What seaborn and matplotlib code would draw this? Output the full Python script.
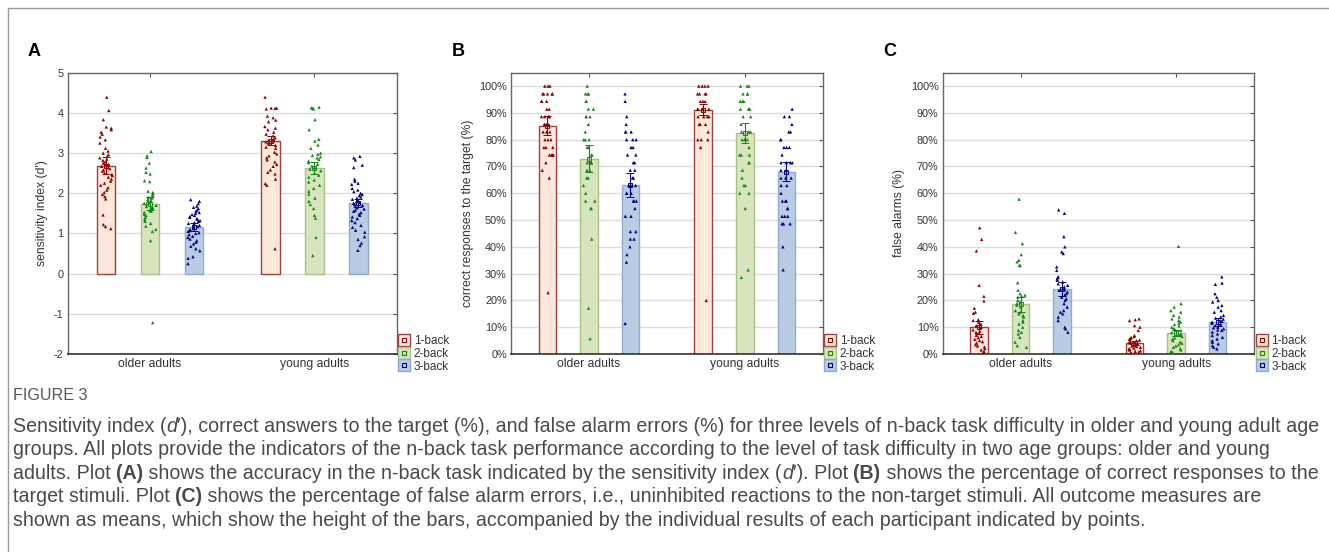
import numpy as np
import pandas as pd
import matplotlib
matplotlib.use("Agg")
import matplotlib.pyplot as plt
import seaborn as sns
from matplotlib.lines import Line2D

# ---------------- data ----------------
levels = ["1-back", "2-back", "3-back"]
groups = ["older adults", "young adults"]

# Panel A: sensitivity index (d')
a_old_1 = [4.39, 4.06, 3.83, 3.65, 3.62, 3.58, 3.52, 3.47, 3.40, 3.33, 3.25, 3.12, 3.05, 3.00, 2.96, 2.92,
           2.88, 2.85, 2.82, 2.78, 2.75, 2.72, 2.70, 2.67, 2.64, 2.61, 2.58, 2.55, 2.50, 2.47, 2.44, 2.40,
           2.35, 2.30, 2.25, 2.20, 2.14, 2.08, 2.02, 1.97, 1.92, 1.86, 1.46, 1.22, 1.17, 1.12]
a_old_2 = [3.04, 2.93, 2.89, 2.75, 2.63, 2.52, 2.48, 2.31, 2.29, 2.05, 2.02, 1.99, 1.96, 1.93, 1.90, 1.88,
           1.85, 1.82, 1.80, 1.77, 1.75, 1.73, 1.70, 1.67, 1.65, 1.62, 1.60, 1.57, 1.55, 1.52, 1.48, 1.45,
           1.40, 1.35, 1.30, 1.25, 1.18, 1.10, 1.05, 0.82, -1.22]
a_old_3 = [1.84, 1.80, 1.74, 1.68, 1.65, 1.62, 1.58, 1.55, 1.52, 1.50, 1.47, 1.45, 1.42, 1.40, 1.37, 1.35,
           1.32, 1.30, 1.27, 1.25, 1.22, 1.20, 1.17, 1.15, 1.12, 1.10, 1.07, 1.05, 1.02, 1.00, 0.97, 0.93,
           0.90, 0.86, 0.82, 0.78, 0.74, 0.68, 0.62, 0.57, 0.42, 0.38, 0.25]
a_young_1 = [4.39, 4.12, 4.12, 4.11, 4.10, 3.92, 3.88, 3.82, 3.78, 3.66, 3.62, 3.58, 3.52, 3.47, 3.43, 3.38,
             3.34, 3.32, 3.30, 3.28, 3.25, 3.22, 3.19, 3.15, 3.12, 3.02, 2.98, 2.93, 2.88, 2.83, 2.78, 2.72,
             2.67, 2.58, 2.52, 2.48, 2.35, 2.24, 2.20, 0.62]
a_young_2 = [4.14, 4.13, 4.12, 4.10, 3.83, 3.58, 3.34, 3.30, 3.20, 3.12, 3.00, 2.97, 2.94, 2.91, 2.88, 2.84,
             2.80, 2.76, 2.72, 2.68, 2.64, 2.60, 2.56, 2.50, 2.45, 2.40, 2.33, 2.28, 2.20, 2.12, 2.05, 1.98,
             1.88, 1.80, 1.72, 1.62, 1.45, 1.38, 0.90, 0.45]
a_young_3 = [2.92, 2.88, 2.83, 2.70, 2.64, 2.35, 2.30, 2.25, 2.22, 2.12, 2.08, 2.04, 2.00, 1.97, 1.94, 1.91,
             1.88, 1.85, 1.82, 1.80, 1.77, 1.75, 1.72, 1.70, 1.67, 1.64, 1.61, 1.58, 1.55, 1.52, 1.48, 1.45,
             1.41, 1.37, 1.32, 1.27, 1.20, 1.15, 1.08, 1.03, 0.92, 0.85, 0.76, 0.70, 0.58]
a_means_old = [2.69, 1.74, 1.15]
a_means_young = [3.31, 2.63, 1.76]
a_err_old = [0.22, 0.16, 0.10]
a_err_young = [0.12, 0.15, 0.10]

# Panel B: correct responses to the target (%)
b_old_1 = [100, 100, 100, 97.1, 97.1, 97.1, 97.1, 97.1, 94.3, 94.3, 94.3, 91.4, 91.4, 88.6, 88.6, 88.6,
           88.6, 85.7, 85.7, 85.7, 85.7, 82.9, 82.9, 82.9, 80.0, 80.0, 80.0, 77.1, 77.1, 77.1, 74.3, 74.3,
           74.3, 74.3, 71.4, 68.6, 65.7, 22.9]
b_old_2 = [100, 97.1, 97.1, 97.1, 94.3, 94.3, 91.4, 91.4, 88.6, 88.6, 88.6, 85.7, 82.9, 80.0, 80.0, 80.0,
           77.1, 77.1, 74.3, 74.3, 71.4, 71.4, 71.4, 71.4, 68.6, 68.6, 65.7, 65.7, 62.9, 60.0, 57.1, 57.1,
           54.3, 54.3, 42.9, 17.1, 5.7]
b_old_3 = [97.1, 94.3, 88.6, 85.7, 82.9, 82.9, 82.9, 80.0, 80.0, 80.0, 77.1, 77.1, 74.3, 74.3, 71.4, 71.4,
           68.6, 68.6, 65.7, 65.7, 62.9, 62.9, 62.9, 60.0, 60.0, 60.0, 57.1, 57.1, 57.1, 54.3, 51.4, 51.4,
           45.7, 45.7, 42.9, 42.9, 40.0, 37.1, 34.3, 11.4]
b_young_1 = [100, 100, 100, 100, 97.1, 97.1, 97.1, 97.1, 94.3, 94.3, 94.3, 91.4, 91.4, 91.4, 91.4, 88.6,
             88.6, 88.6, 88.6, 85.7, 85.7, 85.7, 82.9, 80.0, 80.0, 80.0, 77.1, 20.0]
b_young_2 = [100, 100, 100, 97.1, 97.1, 97.1, 94.3, 94.3, 94.3, 91.4, 91.4, 91.4, 91.4, 88.6, 88.6, 85.7,
             82.9, 82.9, 82.9, 80.0, 80.0, 80.0, 77.1, 74.3, 74.3, 74.3, 71.4, 71.4, 68.6, 65.7, 62.9, 62.9,
             60.0, 60.0, 54.3, 31.4, 28.6]
b_young_3 = [91.4, 88.6, 88.6, 85.7, 82.9, 82.9, 80.0, 80.0, 77.1, 77.1, 77.1, 74.3, 71.4, 71.4, 71.4, 71.4,
             68.6, 68.6, 65.7, 65.7, 65.7, 62.9, 62.9, 60.0, 57.1, 57.1, 57.1, 54.3, 54.3, 51.4, 51.4, 51.4,
             48.6, 48.6, 48.6, 40.0, 31.4]
b_means_old = [85.2, 72.9, 63.0]
b_means_young = [91.2, 82.4, 68.0]
b_err_old = [3.5, 5.0, 4.5]
b_err_young = [2.0, 3.8, 3.6]

# Panel C: false alarms (%)
c_old_1 = [47.1, 42.8, 38.5, 25.6, 21.5, 19.8, 17.1, 15.6, 15.2, 12.8, 12.5, 11.9, 11.2, 10.6, 10.0, 9.6,
           9.0, 8.5, 8.1, 7.6, 7.0, 6.6, 6.1, 5.5, 5.0, 4.6, 4.1, 3.5, 3.0, 2.6, 2.0, 1.5, 1.0, 0.5]
c_old_2 = [57.8, 45.4, 41.2, 37.1, 35.0, 34.4, 33.1, 33.0, 26.6, 23.8, 22.5, 22.0, 21.6, 21.2, 20.0, 19.4,
           18.8, 18.2, 17.5, 16.2, 15.6, 15.0, 14.4, 13.8, 12.5, 11.9, 11.2, 10.0, 8.8, 8.1, 7.5, 6.2,
           4.4, 3.1, 2.5]
c_old_3 = [53.8, 52.5, 43.8, 40.0, 38.1, 37.5, 32.5, 31.2, 28.8, 28.5, 28.0, 27.5, 26.9, 26.2, 25.6, 25.0,
           24.4, 24.0, 23.8, 23.1, 22.5, 22.0, 21.2, 20.6, 20.0, 18.8, 17.5, 16.2, 15.6, 15.0, 13.8, 12.5,
           10.0, 9.4, 8.1]
c_young_1 = [13.1, 12.8, 12.5, 10.6, 10.0, 8.8, 6.9, 6.5, 6.2, 5.8, 5.5, 5.2, 5.0, 4.8, 4.5, 4.2, 4.0, 3.8,
             3.5, 3.2, 3.0, 2.8, 2.5, 2.2, 2.0, 1.8, 1.5, 1.2, 1.0, 0.8, 0.5, 0.2]
c_young_2 = [40.2, 18.8, 17.5, 16.2, 15.6, 14.4, 13.8, 13.1, 12.5, 12.0, 11.5, 11.0, 10.5, 10.0, 9.5, 9.0,
             8.8, 8.0, 7.5, 7.0, 6.5, 6.0, 5.5, 5.0, 4.5, 4.0, 3.5, 3.0, 2.5, 2.0, 1.5, 1.0, 0.6]
c_young_3 = [28.8, 26.5, 26.0, 22.5, 21.2, 20.0, 19.4, 18.1, 17.5, 16.2, 15.6, 14.4, 13.8, 13.4, 13.0, 12.5,
             12.2, 11.9, 11.5, 11.2, 10.6, 10.0, 9.8, 9.4, 9.0, 8.8, 8.2, 7.5, 6.9, 6.2, 5.6, 5.0, 4.4, 3.8,
             3.1, 2.5, 1.9]
c_means_old = [9.9, 18.6, 24.4]
c_means_young = [4.1, 7.8, 11.8]
c_err_old = [2.5, 2.8, 2.6]
c_err_young = [0.9, 1.2, 1.5]

a_ticks = [-2, -1, 0, 1, 2, 3, 4, 5]
a_ticklabels = ["-2", "-1", "0", "1", "2", "3", "4", "5"]
pct_ticks = [0, 10, 20, 30, 40, 50, 60, 70, 80, 90, 100]
pct_ticklabels = ["0%", "10%", "20%", "30%", "40%", "50%", "60%", "70%", "80%", "90%", "100%"]

caption_title = "FIGURE 3"
caption_lines = [
    [("Sensitivity index (", "n"), ("d", "i"), ("′), correct answers to the target (%), and false alarm errors (%) for three levels of n-back task difficulty in older and young adult age", "n")],
    [("groups. All plots provide the indicators of the n-back task performance according to the level of task difficulty in two age groups: older and young", "n")],
    [("adults. Plot ", "n"), ("(A)", "b"), (" shows the accuracy in the n-back task indicated by the sensitivity index (", "n"), ("d", "i"), ("′). Plot ", "n"), ("(B)", "b"), (" shows the percentage of correct responses to the", "n")],
    [("target stimuli. Plot ", "n"), ("(C)", "b"), (" shows the percentage of false alarm errors, i.e., uninhibited reactions to the non-target stimuli. All outcome measures are", "n")],
    [("shown as means, which show the height of the bars, accompanied by the individual results of each participant indicated by points.", "n")],
]

# ---------------- style ----------------
sns.set_theme(style="white")
plt.rcParams["font.family"] = ["Liberation Sans", "DejaVu Sans"]

bar_fill = ["#FDE9DC", "#D8E4BD", "#B9CCE4"]
bar_edge = ["#A0403E", "#A9C285", "#8EAAD0"]
pt_colors = ["#8B0000", "#118811", "#00007F"]
txt_col = "#333333"

W, H = 1329, 552
fig = plt.figure(figsize=(W / 100, H / 100), dpi=100)
fig.patch.set_facecolor("white")


def panel(rect, old_pts, young_pts, m_old, m_young, e_old, e_young, ylim, ticks, ticklabels, ylabel, letter, letter_x):
    ax = fig.add_axes(rect)
    mean_df = pd.DataFrame({"group": np.repeat(groups, 3), "level": levels * 2,
                            "mean": list(m_old) + list(m_young)})
    sns.barplot(data=mean_df, x="group", y="mean", hue="level", order=groups, hue_order=levels,
                palette=bar_fill, saturation=1, width=0.8, gap=0.58, errorbar=None, legend=False,
                ax=ax, zorder=2)
    bars = list(ax.containers[:3])
    for cont, ec in zip(bars, bar_edge):
        for p in cont:
            p.set_edgecolor(ec)
            p.set_linewidth(1.0)

    rows = []
    for g, pts in zip(groups, [old_pts, young_pts]):
        for lv, vals in zip(levels, pts):
            for v in vals:
                rows.append((g, lv, v))
    pts_df = pd.DataFrame(rows, columns=["group", "level", "value"])
    np.random.seed(3)
    sns.stripplot(data=pts_df, x="group", y="value", hue="level", order=groups, hue_order=levels,
                  palette=pt_colors, dodge=True, jitter=0.12, size=2.4, marker="^", linewidth=0,
                  legend=False, ax=ax, zorder=3)

    for i, cont in enumerate(bars):
        for bar, e in zip(cont, [e_old[i], e_young[i]]):
            x = bar.get_x() + bar.get_width() / 2
            y = bar.get_height()
            ax.errorbar(x, y, yerr=e, fmt="s", ms=3.2, mfc="none", mec=pt_colors[i], mew=0.7,
                        ecolor=pt_colors[i], elinewidth=0.8, capsize=3, capthick=0.8, zorder=4)

    ax.set_xlim(-0.5, 1.5)
    ax.set_ylim(*ylim)
    ax.set_yticks(ticks)
    ax.set_yticklabels(ticklabels)
    ax.set_xlabel("")
    ax.set_ylabel(ylabel, fontsize=8.7, color=txt_col)
    ax.yaxis.grid(True, color="#DDDDDD", lw=1)
    ax.set_axisbelow(True)
    ax.tick_params(axis="both", direction="in", length=3, width=0.8, color="#555555",
                   top=True, right=True, labelcolor=txt_col)
    ax.tick_params(axis="y", labelsize=7.8, pad=3)
    ax.tick_params(axis="x", labelsize=8.7, pad=3)
    for s in ax.spines.values():
        s.set_color("#666666")
        s.set_linewidth(1.0)
    ax.spines["bottom"].set_color("#333333")
    ax.spines["bottom"].set_linewidth(1.2)

    handles = []
    for f, ec, pc in zip(bar_fill, bar_edge, pt_colors):
        big = Line2D([], [], marker="s", ms=8, mfc=f, mec=ec, mew=1.0, ls="none")
        small = Line2D([], [], marker="s", ms=3, mfc="none", mec=pc, mew=0.8, ls="none")
        handles.append((big, small))
    ax.legend(handles, levels, loc="center left", bbox_to_anchor=(1.0, 0.0), frameon=False,
              fontsize=8.5, handlelength=0.9, handletextpad=0.35, labelspacing=0.05,
              borderaxespad=0.2, borderpad=0, labelcolor=txt_col)

    fig.text(letter_x / W, 1 - 52 / H, letter, fontsize=13, fontweight="bold", color="black",
             va="center", ha="left", family=["Liberation Sans", "DejaVu Sans"])
    return ax


ax_bottom = 1 - 354 / H
ax_height = (354 - 72.7) / H
panel([67.7 / W, ax_bottom, 329 / W, ax_height],
      [a_old_1, a_old_2, a_old_3], [a_young_1, a_young_2, a_young_3],
      a_means_old, a_means_young, a_err_old, a_err_young,
      (-2, 5), a_ticks, a_ticklabels, "sensitivity index (d')", "A", 28)
panel([511 / W, ax_bottom, 311.7 / W, ax_height],
      [b_old_1, b_old_2, b_old_3], [b_young_1, b_young_2, b_young_3],
      b_means_old, b_means_young, b_err_old, b_err_young,
      (0, 105), pct_ticks, pct_ticklabels, "correct responses to the target (%)", "B", 452)
panel([942.7 / W, ax_bottom, 311.3 / W, ax_height],
      [c_old_1, c_old_2, c_old_3], [c_young_1, c_young_2, c_young_3],
      c_means_old, c_means_young, c_err_old, c_err_young,
      (0, 105), pct_ticks, pct_ticklabels, "false alarms (%)", "C", 883)

# frame lines (top and left border of the figure box)
fig.add_artist(Line2D([7.5 / W, 1.0], [1 - 7.5 / H, 1 - 7.5 / H], transform=fig.transFigure,
                      color="#9A9A9A", lw=1.0))
fig.add_artist(Line2D([7.5 / W, 7.5 / W], [0.0, 1 - 7.5 / H], transform=fig.transFigure,
                      color="#9A9A9A", lw=1.0))

# ---------------- caption ----------------
cap_family = ["Liberation Sans Narrow", "Liberation Sans", "DejaVu Sans"]
cap_color = "#4A4A4A"
renderer = fig.canvas.get_renderer()


def draw_line(y_px, segs, size, keep=True):
    x = 13.0
    made = []
    for txt, sty in segs:
        kw = dict(fontsize=size, color=cap_color, family=cap_family, va="center", ha="left")
        if sty == "i":
            kw["fontstyle"] = "italic"
        if sty == "b":
            kw["fontweight"] = "bold"
        t = fig.text(x / W, 1 - y_px / H, txt, **kw)
        x += t.get_window_extent(renderer).width
        made.append(t)
    if not keep:
        for t in made:
            t.remove()
    return x - 13.0


w0 = draw_line(426, caption_lines[0], 12, keep=False)
cap_size = 12 * 1305.0 / w0
fig.text(13 / W, 1 - 396 / H, caption_title, fontsize=cap_size * 0.82, color="#555555",
         family=cap_family, va="center", ha="left")
for k, segs in enumerate(caption_lines):
    draw_line(426 + k * 23.6, segs, cap_size)

fig.savefig("out.png", dpi=100, facecolor="white")
